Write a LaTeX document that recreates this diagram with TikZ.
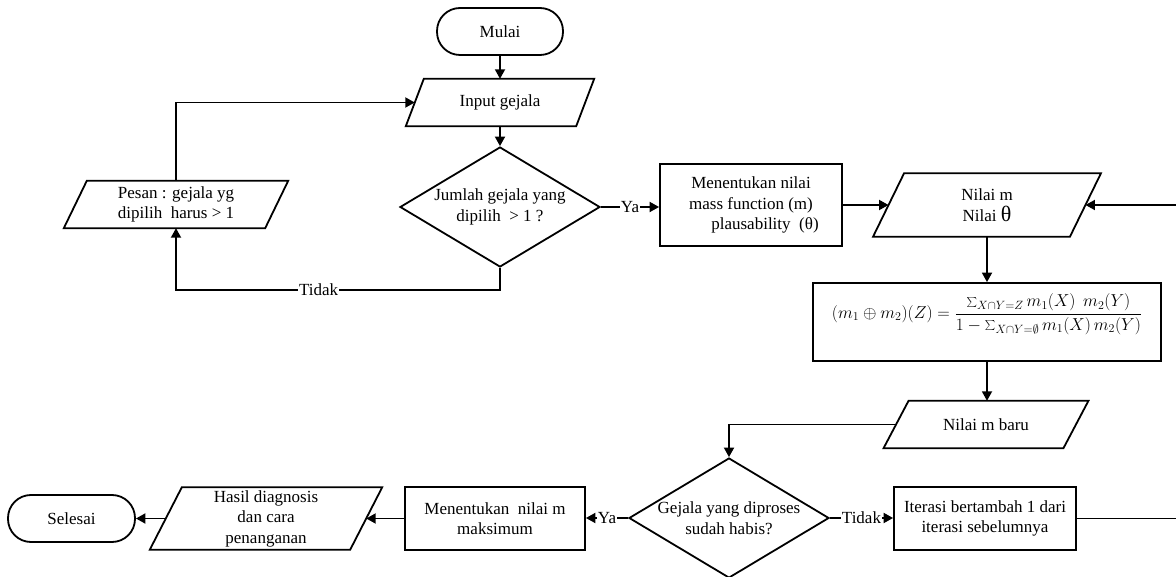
\documentclass[tikz,border=0pt]{standalone}
\usepackage{fontspec}
\setmainfont{Liberation Serif}
\usetikzlibrary{shapes.geometric,arrows.meta}
\newcommand\parabox[2]{\draw[shapeline] ([xshift=-#2pt]#1.south west) -- ([xshift=#2pt]#1.north west) -- ([xshift=#2pt]#1.north east) -- ([xshift=-#2pt]#1.south east) -- cycle;}
\begin{document}
\begin{tikzpicture}[x=1pt,y=-1pt,
  every node/.style={font=\fontsize{17}{20.5}\selectfont, inner sep=0pt, align=center},
  shapeline/.style={line width=1.8pt, line join=miter},
  term/.style={draw, line width=1.8pt, rectangle, rounded corners=23pt, minimum width=126pt, minimum height=47pt},
  proc/.style={draw, line width=1.8pt, rectangle},
  io/.style={rectangle},
  dec/.style={draw, line width=1.8pt, diamond, minimum width=200pt, minimum height=120pt},
  arr/.style={line width=1.8pt, -{Triangle[length=9.5pt,width=10pt]}},
  lbl/.style={fill=white, inner sep=1pt}
]
\useasboundingbox (0,0) rectangle (1176,577);

\node[term] (mulai) at (500,31.5) {Mulai};
\node[io, minimum width=170pt, minimum height=47pt] (inp) at (500,102.5) {Input gejala};
\parabox{inp}{9}
\node[dec, label={center:Jumlah gejala yang\\dipilih \ > 1 ?}] (d1) at (500,207) {};
\node[io, minimum width=201pt, minimum height=47pt] (pesan) at (176,204.5) {Pesan : gejala yg\\dipilih \ harus > 1};
\parabox{pesan}{11.5}
\node[proc, minimum width=182pt, minimum height=82pt] (m1) at (751,205) {Menentukan nilai\\mass function (m)\\\hspace*{28pt}plausability \ (θ)};
\node[io, minimum width=196.5pt, minimum height=63pt] (nm) at (987,205) {Nilai m\\Nilai {\fontsize{22}{20}\selectfont θ}};
\parabox{nm}{15.5}
\node[proc, minimum width=348pt, minimum height=78pt,
  label={[yshift=8pt]center:$\displaystyle (m_1\oplus m_2)(Z) = \frac{\sum_{X\cap Y=Z} m_1(X)\;\, m_2(Y)}{1-\sum_{X\cap Y=\emptyset} m_1(X)\, m_2(Y)}$}] (fbox) at (987,322) {};
\node[io, minimum width=179.5pt, minimum height=47pt] (nmb) at (986,424.5) {Nilai m baru};
\parabox{nmb}{12.5}
\node[dec, label={center:Gejala yang diproses\\sudah habis?}] (d2) at (729,518) {};
\node[proc, minimum width=182pt, minimum height=63pt] (it) at (985,518.5) {Iterasi bertambah 1 dari\\iterasi sebelumnya};
\node[proc, minimum width=180pt, minimum height=63pt] (m2) at (495,518.5) {Menentukan \ nilai m\\maksimum};
\node[io, minimum width=200pt, minimum height=62pt] (hasil) at (266,518.5) {Hasil diagnosis\\dan cara\\penanganan};
\parabox{hasil}{16}
\node[term, minimum width=127pt] (sel) at (71.5,518.5) {Selesai};

\coordinate (tc) at (500,290);
\coordinate (rx) at (1178,518.5);

\draw[arr] (mulai) -- (inp);
\draw[arr] (inp) -- (d1);
\draw[arr] (d1.east) -- node[lbl]{Ya} (d1.east -| m1.west);
\draw[arr] (m1) -- (nm);
\draw[arr] (nm.south) -- (nm.south |- fbox.north);
\draw[arr] (fbox.south) -- (fbox.south |- nmb.north);
\draw[arr] (nmb.west) -| (d2.north);
\draw[arr] (d2.east) -- node[lbl]{Tidak} (d2.east -| it.west);
\draw[arr] (it.east) -- (rx) |- (nm.east);
\draw[arr] (d2.west) -- node[lbl]{Ya} (d2.west -| m2.east);
\draw[arr] (m2.west) -- (m2.west -| hasil.east);
\draw[arr] (hasil.west) -- (hasil.west -| sel.east);
\draw[arr] (d1.south) -- (tc) -| node[lbl,pos=0.28]{Tidak} (pesan.south);
\draw[arr] (pesan.north) |- (inp.west);
\end{tikzpicture}
\end{document}
